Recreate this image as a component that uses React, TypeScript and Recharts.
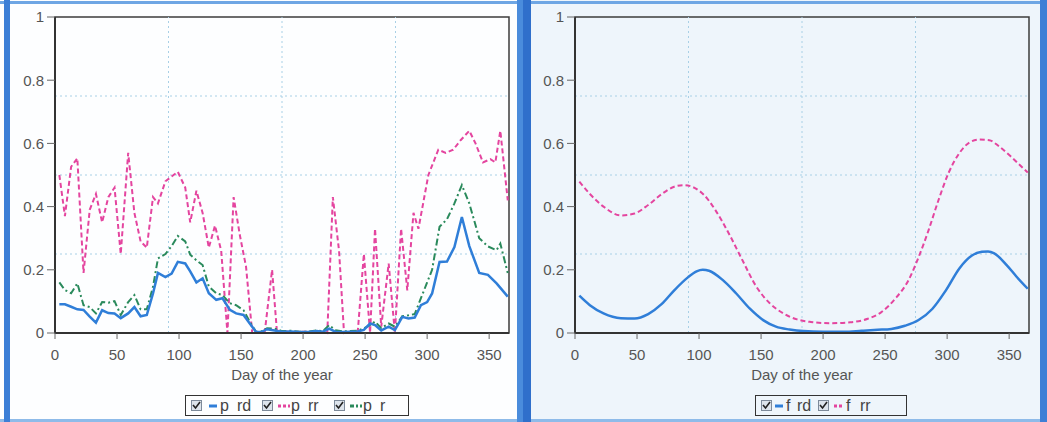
import React from "react";
import { LineChart, Line, XAxis, YAxis, ReferenceLine, ReferenceArea } from "recharts";

// ---------- data ----------
const xTicks = [0, 50, 100, 150, 200, 250, 300, 350];
const yTicks = [0, 0.2, 0.4, 0.6, 0.8, 1];
const gridDays = [91.5, 183, 274.5];
const gridValues = [0.25, 0.5, 0.75];

// left panel: p rd (blue solid)
const prdDays = [3.5, 8, 13, 18, 23, 28, 33, 38, 43, 48, 53, 59, 64, 69, 74, 79, 83, 89, 94, 99, 105, 109, 114, 119, 124, 130, 135, 141, 146, 152, 157, 162, 166, 171, 177, 183, 190, 197, 204, 211, 216, 221, 226, 232, 238, 244, 249, 254, 258, 263, 269, 274, 280, 285, 290, 295, 300, 304, 310, 316, 322, 328, 334, 342, 349, 356, 365];
const prdValues = [0.091, 0.091, 0.083, 0.075, 0.073, 0.052, 0.033, 0.072, 0.063, 0.062, 0.047, 0.062, 0.082, 0.053, 0.057, 0.125, 0.19, 0.177, 0.188, 0.225, 0.22, 0.195, 0.16, 0.173, 0.126, 0.105, 0.11, 0.073, 0.062, 0.057, 0.03, 0.004, 0.003, 0.012, 0.008, 0.004, 0.005, 0.003, 0.003, 0.006, 0.004, 0.014, 0.004, 0.003, 0.004, 0.005, 0.01, 0.03, 0.025, 0.008, 0.02, 0.009, 0.051, 0.046, 0.049, 0.088, 0.098, 0.125, 0.225, 0.226, 0.272, 0.367, 0.275, 0.19, 0.184, 0.157, 0.115];

// left panel: p rr (pink dashed)
const prrDays = [3.5, 8, 13, 18, 23, 28, 33, 38, 43, 48, 53, 59, 64, 69, 74, 79, 83, 89, 99, 105, 109, 114, 119, 124, 129, 134, 139, 144, 149, 154, 159, 164, 169, 175, 179, 185, 192, 200, 207, 214, 219.5, 224, 229, 233, 238, 244, 249, 254, 258, 263, 269, 274, 279, 284, 289, 293, 301, 309, 315, 321, 327, 334, 339, 345, 351, 355, 359, 365];
const prrValues = [0.5, 0.37, 0.526, 0.553, 0.19, 0.39, 0.44, 0.35, 0.43, 0.46, 0.25, 0.57, 0.38, 0.29, 0.27, 0.43, 0.41, 0.48, 0.51, 0.46, 0.35, 0.45, 0.38, 0.27, 0.34, 0.26, 0.0, 0.43, 0.31, 0.21, 0.0, 0.0, 0.0, 0.2, 0.0, 0.005, 0.003, 0.004, 0.003, 0.004, 0.0, 0.43, 0.26, 0.0, 0.004, 0.0, 0.25, 0.0, 0.33, 0.02, 0.22, 0.0, 0.33, 0.135, 0.38, 0.33, 0.5, 0.58, 0.57, 0.58, 0.61, 0.64, 0.6, 0.54, 0.55, 0.54, 0.64, 0.42];

// left panel: p r (green dash-dot)
const prDays = [3.5, 8, 13, 18, 23, 28, 33, 38, 43, 48, 53, 59, 64, 69, 74, 79, 83, 89, 94, 99, 105, 109, 114, 119, 124, 130, 135, 141, 146, 152, 157, 162, 166, 171, 177, 183, 190, 197, 204, 211, 216, 221, 226, 232, 238, 244, 249, 254, 258, 263, 269, 274, 280, 285, 290, 295, 300, 304, 310, 316, 322, 328, 334, 342, 349, 356, 359, 365];
const prValues = [0.16, 0.136, 0.126, 0.157, 0.088, 0.082, 0.062, 0.098, 0.096, 0.101, 0.057, 0.098, 0.12, 0.075, 0.075, 0.146, 0.236, 0.25, 0.275, 0.307, 0.29, 0.248, 0.23, 0.215, 0.147, 0.126, 0.12, 0.094, 0.088, 0.072, 0.036, 0.004, 0.004, 0.015, 0.014, 0.006, 0.007, 0.004, 0.004, 0.008, 0.006, 0.025, 0.009, 0.005, 0.006, 0.007, 0.015, 0.025, 0.036, 0.015, 0.03, 0.02, 0.053, 0.056, 0.06, 0.11, 0.16, 0.2, 0.336, 0.36, 0.41, 0.468, 0.41, 0.3, 0.274, 0.262, 0.283, 0.19];

// right panel: f rd (blue solid)
const frdDays = [3.5, 12, 23, 37, 48, 59, 70, 80, 91, 98, 103, 108, 119, 130, 141, 152, 162, 173, 184, 200, 217, 231, 244, 255, 266, 277, 288, 299, 310, 320, 328, 333, 338, 348, 356, 365];
const frdValues = [0.118, 0.088, 0.062, 0.047, 0.046, 0.06, 0.092, 0.135, 0.176, 0.195, 0.2, 0.197, 0.168, 0.125, 0.077, 0.04, 0.02, 0.011, 0.006, 0.004, 0.004, 0.007, 0.01, 0.013, 0.023, 0.041, 0.076, 0.135, 0.205, 0.245, 0.257, 0.258, 0.252, 0.215, 0.178, 0.14];

// right panel: f rr (pink dashed)
const frrDays = [3.5, 12, 23, 37, 48, 59, 70, 80, 88, 96, 104, 113, 124, 135, 146, 157, 168, 179, 190, 206, 222, 236, 247, 258, 269, 277, 285, 293, 301, 310, 318, 326, 334, 342, 351, 359, 365];
const frrValues = [0.479, 0.44, 0.4, 0.372, 0.378, 0.405, 0.44, 0.463, 0.468, 0.46, 0.437, 0.39, 0.315, 0.23, 0.148, 0.094, 0.062, 0.043, 0.035, 0.031, 0.034, 0.045, 0.066, 0.108, 0.168, 0.24, 0.325, 0.42, 0.505, 0.57, 0.603, 0.612, 0.61, 0.59, 0.56, 0.53, 0.508];

const toRows = (days: number[], vals: number[]) => days.map((d, i) => ({ day: d, v: vals[i] }));

// ---------- styles ----------
const FONT = '"Liberation Sans", Arial, sans-serif';
const BLUE = "#2f7ed8";
const PINK = "#e4459f";
const GREEN = "#2a8a5c";
const TEXT = "#555";

const Checkbox = ({ x }: { x: number }) => (
  <svg style={{ position: "absolute", left: x, top: 4 }} width={11} height={11}>
    <rect x={0.5} y={0.5} width={10} height={10} fill="#dde4ec" stroke="#7d8a9a" />
    <path d="M2 5 L4.5 8 L9 2" fill="none" stroke="#222" strokeWidth={1.6} />
  </svg>
);

const Swatch = ({ x, w, color, dash }: { x: number; w: number; color: string; dash?: string }) => (
  <svg style={{ position: "absolute", left: x, top: 8 }} width={w} height={4}>
    <line x1={0} y1={2} x2={w} y2={2} stroke={color} strokeWidth={3} strokeDasharray={dash} />
  </svg>
);

const Txt = ({ x, children }: { x: number; children: React.ReactNode }) => (
  <span style={{ position: "absolute", left: x, top: 1, fontSize: 16, lineHeight: "18px", color: "#444", fontFamily: FONT }}>{children}</span>
);

type Series = { key: string; data: { day: number; v: number }[]; color: string; dash?: string; width: number; smooth: boolean };

const Panel = ({ left, series }: { left: number; series: Series[] }) => (
  <LineChart
    width={520}
    height={390}
    margin={{ top: 17, right: 11, bottom: 10, left: 10 }}
    style={{ position: "absolute", left, top: 0 }}
  >
    <XAxis
      dataKey="day"
      type="number"
      domain={[0, 366]}
      ticks={xTicks}
      allowDataOverflow
      height={47}
      tickSize={6}
      tickMargin={10}
      tick={{ fill: TEXT, fontSize: 15, fontFamily: FONT }}
      tickLine={{ stroke: "#666" }}
      axisLine={{ stroke: "#333", strokeWidth: 2 }}
      label={{ value: "Day of the year", position: "insideBottom", offset: 0, fill: TEXT, fontSize: 15, fontFamily: FONT }}
    />
    <YAxis
      type="number"
      domain={[0, 1]}
      ticks={yTicks}
      width={45}
      tickSize={8}
      tickMargin={3}
      tick={{ fill: TEXT, fontSize: 15, fontFamily: FONT }}
      tickLine={{ stroke: "#666" }}
      axisLine={{ stroke: "#333", strokeWidth: 2 }}
      tickFormatter={(v: number) => (v === 0 || v === 1 ? String(v) : v.toFixed(1))}
    />
    {gridDays.map((d) => (
      <ReferenceLine key={"gx" + d} x={d} stroke="#a8d0e6" strokeDasharray="2 3" />
    ))}
    {gridValues.map((v) => (
      <ReferenceLine key={"gy" + v} y={v} stroke="#a8d0e6" strokeDasharray="2 3" />
    ))}
    <ReferenceArea x1={0} x2={366} y1={0} y2={1} fill="none" stroke="#3c3c3c" strokeWidth={1.5} />
    {series.map((s) => (
      <Line
        key={s.key}
        data={s.data}
        dataKey="v"
        type={s.smooth ? "monotone" : "linear"}
        stroke={s.color}
        strokeWidth={s.width}
        strokeDasharray={s.dash}
        dot={false}
        activeDot={false}
        isAnimationActive={false}
      />
    ))}
  </LineChart>
);

export default function App() {
  const leftSeries: Series[] = [
    { key: "prr", data: toRows(prrDays, prrValues), color: PINK, dash: "5 3", width: 2, smooth: false },
    { key: "pr", data: toRows(prDays, prValues), color: GREEN, dash: "7 3 2 3", width: 2, smooth: false },
    { key: "prd", data: toRows(prdDays, prdValues), color: BLUE, width: 2.5, smooth: false },
  ];
  const rightSeries: Series[] = [
    { key: "frr", data: toRows(frrDays, frrValues), color: PINK, dash: "5 3", width: 2, smooth: true },
    { key: "frd", data: toRows(frdDays, frdValues), color: BLUE, width: 2.5, smooth: true },
  ];
  return (
    <div style={{ position: "absolute", left: 0, top: 0, width: 1047, height: 422, background: "#ffffff", overflow: "hidden", fontFamily: FONT }}>
      {/* panel backgrounds */}
      <div style={{ position: "absolute", left: 10, top: 0, width: 507, height: 422, background: "#fdfeff" }} />
      <div style={{ position: "absolute", left: 531, top: 0, width: 509, height: 422, background: "#eef5fb" }} />
      {/* frames */}
      <div style={{ position: "absolute", left: 0, top: 1, width: 1047, height: 3, background: "#6ea6e4" }} />
      <div style={{ position: "absolute", left: 0, top: 419, width: 1047, height: 3, background: "#8ebbe9" }} />
      <div style={{ position: "absolute", left: 4, top: 0, width: 6, height: 422, background: "#3d7fd6" }} />
      <div style={{ position: "absolute", left: 517, top: 0, width: 6, height: 422, background: "#4a8cdc" }} />
      <div style={{ position: "absolute", left: 523, top: 0, width: 8, height: 422, background: "#2f6fcb" }} />
      <div style={{ position: "absolute", left: 1040, top: 0, width: 7, height: 422, background: "#3d7fd6" }} />

      <Panel left={0} series={leftSeries} />
      <Panel left={520} series={rightSeries} />

      {/* left legend */}
      <div style={{ position: "absolute", left: 185, top: 395, width: 224, height: 21, border: "1px solid #333", boxSizing: "border-box" }}>
        <div style={{ position: "absolute", left: -185, top: 0 }}>
          <Checkbox x={190} />
          <Swatch x={208} w={8} color={BLUE} />
          <Txt x={219}>p</Txt>
          <Txt x={236}>rd</Txt>
          <Checkbox x={261} />
          <Swatch x={277} w={12} color={PINK} dash="3 2" />
          <Txt x={290}>p</Txt>
          <Txt x={307}>rr</Txt>
          <Checkbox x={333} />
          <Swatch x={349} w={12} color={GREEN} dash="4 2 2 2" />
          <Txt x={362}>p</Txt>
          <Txt x={379}>r</Txt>
        </div>
      </div>

      {/* right legend */}
      <div style={{ position: "absolute", left: 755, top: 395, width: 152, height: 21, border: "1px solid #333", boxSizing: "border-box" }}>
        <div style={{ position: "absolute", left: -755, top: 0 }}>
          <Checkbox x={760} />
          <Swatch x={774} w={8} color={BLUE} />
          <Txt x={785}>f</Txt>
          <Txt x={796}>rd</Txt>
          <Checkbox x={817} />
          <Swatch x={833} w={8} color={PINK} dash="3 2" />
          <Txt x={845}>f</Txt>
          <Txt x={859}>rr</Txt>
        </div>
      </div>
    </div>
  );
}
